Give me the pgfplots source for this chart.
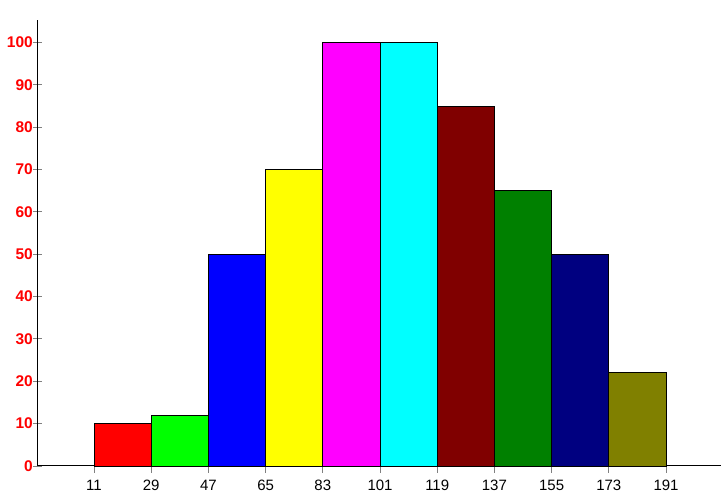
\documentclass[border=0pt]{standalone}
\usepackage{fontspec}
\setmainfont{Liberation Sans}
\usepackage{pgfplots}
\pgfplotsset{compat=1.18}
\definecolor{cMaroon}{RGB}{128,0,0}
\definecolor{cGreen}{RGB}{0,128,0}
\definecolor{cNavy}{RGB}{0,0,128}
\definecolor{cOlive}{RGB}{128,128,0}
\definecolor{cLime}{RGB}{0,255,0}
\definecolor{cRed}{RGB}{255,0,0}
\definecolor{cBlue}{RGB}{0,0,255}
\definecolor{cYellow}{RGB}{255,255,0}
\definecolor{cMagenta}{RGB}{255,0,255}
\definecolor{cCyan}{RGB}{0,255,255}
\begin{document}
\begin{tikzpicture}
\path[use as bounding box] (-37.5pt,-28pt) rectangle (685.5pt,466pt);
\begin{axis}[
  at={(0pt,0pt)}, anchor=south west,
  scale only axis,
  width=683.5pt, height=446pt,
  xmin=-6.78, xmax=208.3,
  ymin=0, ymax=105.3,
  axis lines=left,
  axis line style={line width=1pt, -},
  xtick={11,29,...,191},
  ytick={0,10,...,100},
  xtick align=outside,
  ytick align=center,
  major tick length=10pt,
  xtick style={line width=0.9pt, /pgfplots/major tick length=7pt},
  ytick style={line width=0.9pt},
  /pgf/number format/assume math mode=true,
  xticklabel style={font=\fontsize{15}{15}\selectfont, text=black, inner sep=0pt, anchor=north, yshift=-4pt},
  yticklabel style={font=\bfseries\fontsize{15.5}{15.5}\selectfont, text=red, inner sep=0pt, anchor=east, xshift=0.5pt},
  every axis plot/.append style={ybar interval, draw=black, line width=0.8pt},
  clip=false,
]
\addplot[fill=cRed] coordinates {(11,10) (29,10)};
\addplot[fill=cLime] coordinates {(29,12) (47,12)};
\addplot[fill=cBlue] coordinates {(47,50) (65,50)};
\addplot[fill=cYellow] coordinates {(65,70) (83,70)};
\addplot[fill=cMagenta] coordinates {(83,100) (101,100)};
\addplot[fill=cCyan] coordinates {(101,100) (119,100)};
\addplot[fill=cMaroon] coordinates {(119,85) (137,85)};
\addplot[fill=cGreen] coordinates {(137,65) (155,65)};
\addplot[fill=cNavy] coordinates {(155,50) (173,50)};
\addplot[fill=cOlive] coordinates {(173,22) (191,22)};
\end{axis}
\end{tikzpicture}
\end{document}
